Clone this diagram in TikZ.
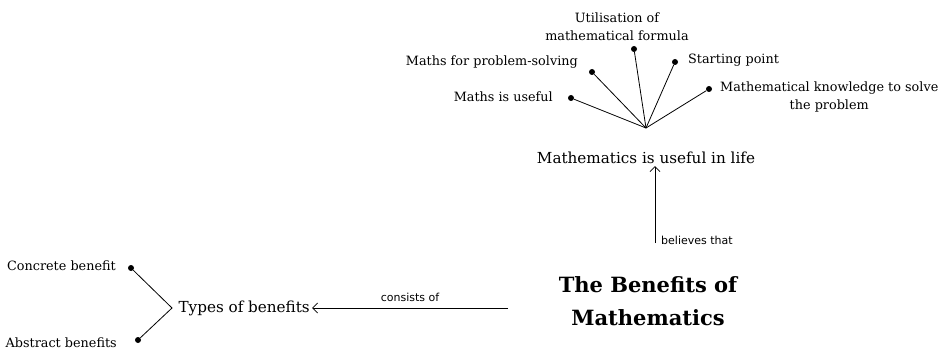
\documentclass[tikz,border=0pt]{standalone}
\usepackage{fontspec}
\setmainfont{DejaVu Serif}
\newfontfamily\linkfont{DejaVu Sans}
\usetikzlibrary{arrows.meta}
\begin{document}
\begin{tikzpicture}[x=1pt,y=-1pt,
  dot/.style={circle,fill=black,inner sep=0pt,minimum size=6pt},
  lbl/.style={font=\fontsize{12.8}{18}\selectfont,inner sep=0pt,align=center},
  concept/.style={font=\fontsize{15.2}{18}\selectfont,inner sep=2pt},
  title/.style={font=\fontsize{21}{33}\selectfont\bfseries,align=center,inner sep=0pt},
  link/.style={font=\linkfont\fontsize{11}{13}\selectfont,inner sep=0pt},
  con/.style={line width=0.8pt},
  arr/.style={line width=0.8pt,-{Straight Barb[length=5pt,width=10pt]}}]
\useasboundingbox (0,0) rectangle (946,350);
% top cluster
\coordinate (hub) at (646,128);
\node[dot] (d1) at (571,98) {};
\node[dot] (d2) at (592,72) {};
\node[dot] (d3) at (634,49) {};
\node[dot] (d4) at (675,62) {};
\node[dot] (d5) at (709,89) {};
\node[lbl,anchor=east] (l1) at (553,97) {Maths is useful};
\node[lbl,anchor=east] (l2) at (578,62) {Maths for problem-solving};
\node[lbl] (l3) at (617,27) {Utilisation of\\mathematical formula};
\node[lbl,anchor=west] (l4) at (688,60) {Starting point};
\node[lbl,anchor=west] (l5) at (720,97) {Mathematical knowledge to solve\\the problem};
\foreach \d in {d1,d2,d3,d4,d5} \draw[con] (hub) -- (\d);
\node[concept] (life) at (646,158) {Mathematics is useful in life};
% title
\node[title] (main) at (648,301) {The Benefits of\\Mathematics};
\coordinate (upstart) at (655,243);
\coordinate (leftstart) at (508,308);
\draw[arr] (upstart) -- (life.south -| upstart);
\node[link,anchor=west] (blab) at (661,240) {believes that};
% left
\node[concept,anchor=east] (types) at (312,308) {Types of benefits};
\draw[arr] (leftstart) -- (types.east) node[link,midway,above=6pt] {consists of};
\coordinate (brk) at (172,308);
\node[dot] (c1) at (131,268) {};
\node[dot] (c2) at (138,340) {};
\draw[con] (c1) -- (brk) -- (c2);
\node[lbl,anchor=east] (cl1) at (116,266) {Concrete benefit};
\node[lbl,anchor=east] (cl2) at (117,343) {Abstract benefits};
\end{tikzpicture}
\end{document}
